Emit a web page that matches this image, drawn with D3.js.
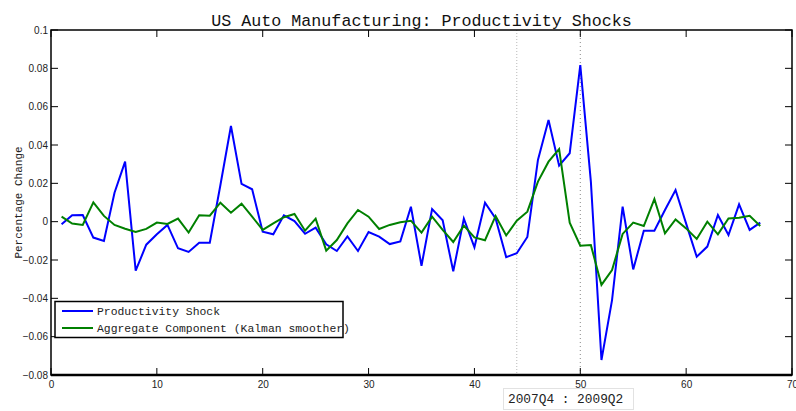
<!DOCTYPE html>
<html>
<head>
<meta charset="utf-8">
<script src="https://cdn.jsdelivr.net/npm/d3@7"></script>
<style>
  html, body { margin: 0; padding: 0; background: #fff; }
  svg { display: block; }
</style>
</head>
<body>
<svg id="chart" width="796" height="411"></svg>
<script>
// ---- data ----
const titleText = "US Auto Manufacturing: Productivity Shocks";
const yLabelText = "Percentage Change";
const seriesNames = ["Productivity Shock", "Aggregate Component (Kalman smoother)"];
const productivityShock = [
  -0.0014, 0.0033, 0.0035, -0.0083, -0.0101, 0.0151, 0.0313, -0.0256, -0.0120, -0.0066,
  -0.0017, -0.0139, -0.0158, -0.0110, -0.0110, 0.0190, 0.0499, 0.0197, 0.0169, -0.0052,
  -0.0066, 0.0033, 0.0003, -0.0063, -0.0031, -0.0118, -0.0153, -0.0077, -0.0153, -0.0054,
  -0.0078, -0.0117, -0.0103, 0.0078, -0.0230, 0.0066, 0.0007, -0.0259, 0.0016, -0.0134,
  0.0099, 0.0017, -0.0185, -0.0165, -0.0080, 0.0322, 0.0530, 0.0292, 0.0357, 0.0817,
  0.0209, -0.0722, -0.0409, 0.0078, -0.0249, -0.0047, -0.0047, 0.0061, 0.0165, -0.0010,
  -0.0183, -0.0130, 0.0035, -0.0070, 0.0090, -0.0043, -0.0005
];
const aggregateComponent = [
  0.0026, -0.0010, -0.0017, 0.0101, 0.0030, -0.0017, -0.0037, -0.0054, -0.0038, -0.0005,
  -0.0012, 0.0016, -0.0057, 0.0033, 0.0031, 0.0099, 0.0047, 0.0094, 0.0026, -0.0043,
  -0.0009, 0.0023, 0.0040, -0.0047, 0.0016, -0.0151, -0.0096, -0.0009, 0.0061, 0.0026,
  -0.0038, -0.0017, -0.0003, 0.0005, -0.0057, 0.0026, -0.0043, -0.0106, -0.0021, -0.0082,
  -0.0097, 0.0030, -0.0072, 0.0005, 0.0052, 0.0209, 0.0313, 0.0379, -0.0005, -0.0125,
  -0.0122, -0.0330, -0.0252, -0.0064, -0.0005, -0.0023, 0.0118, -0.0061, 0.0012, -0.0035,
  -0.0090, 0.0000, -0.0066, 0.0017, 0.0021, 0.0031, -0.0023
];
const xTicks = [0, 10, 20, 30, 40, 50, 60, 70];
const yTicks = [-0.08, -0.06, -0.04, -0.02, 0, 0.02, 0.04, 0.06, 0.08, 0.1];
const yTickLabels = ["\u22120.08", "\u22120.06", "\u22120.04", "\u22120.02", "0", "0.02", "0.04", "0.06", "0.08", "0.1"];
const recessionMarks = [44, 50];
const recessionLabel = "2007Q4 : 2009Q2";

// ---- layout ----
const L = 51, R = 792, T = 30, B = 375;
const mono = "'Liberation Mono', 'Courier New', monospace";
const sans = "'Liberation Sans', Arial, Helvetica, sans-serif";

const svg = d3.select("#chart");
const x = d3.scaleLinear().domain([0, 70]).range([L, R]);
const y = d3.scaleLinear().domain([-0.08, 0.1]).range([B, T]);

// recession markers
const markStyles = [{c: "#b8b8b8", d: "1,2"}, {c: "#888", d: "1,3"}];
recessionMarks.forEach((m, i) => {
  svg.append("line")
    .attr("x1", x(m)).attr("x2", x(m))
    .attr("y1", T).attr("y2", B)
    .attr("stroke", markStyles[i].c).attr("stroke-width", 1)
    .attr("stroke-dasharray", markStyles[i].d);
});

// lines
const line = d3.line().x((d, i) => x(i + 1)).y(d => y(d));
svg.append("path").datum(productivityShock)
  .attr("d", line).attr("fill", "none").attr("stroke", "#0000ff")
  .attr("stroke-width", 2).attr("stroke-linejoin", "miter");
svg.append("path").datum(aggregateComponent)
  .attr("d", line).attr("fill", "none").attr("stroke", "#008000")
  .attr("stroke-width", 2).attr("stroke-linejoin", "miter");

// axes (ticks inward)
const tickLen = 7;
const axBottom = d3.axisBottom(x).tickValues(xTicks).tickSize(0).tickPadding(6);
const gB = svg.append("g").attr("transform", `translate(0,${B})`).call(axBottom);
gB.select(".domain").remove();
gB.selectAll("text").attr("font-family", sans).attr("font-size", 10).attr("fill", "#222");

const axLeft = d3.axisLeft(y).tickValues(yTicks).tickSize(0).tickPadding(3)
  .tickFormat((d, i) => yTickLabels[i]);
const gL = svg.append("g").attr("transform", `translate(${L},0)`).call(axLeft);
gL.select(".domain").remove();
gL.selectAll("text").attr("font-family", sans).attr("font-size", 10).attr("fill", "#222");

// tick marks on all four sides
const ticksG = svg.append("g").attr("stroke", "#000").attr("stroke-width", 1);
xTicks.forEach(v => {
  ticksG.append("line").attr("x1", x(v)).attr("x2", x(v)).attr("y1", B).attr("y2", B - tickLen);
  ticksG.append("line").attr("x1", x(v)).attr("x2", x(v)).attr("y1", T).attr("y2", T + tickLen);
});
yTicks.forEach(v => {
  ticksG.append("line").attr("x1", L).attr("x2", L + tickLen).attr("y1", y(v)).attr("y2", y(v));
  ticksG.append("line").attr("x1", R).attr("x2", R - tickLen).attr("y1", y(v)).attr("y2", y(v));
});

// box
svg.append("rect").attr("x", L).attr("y", T).attr("width", R - L).attr("height", B - T)
  .attr("fill", "none").attr("stroke", "#000").attr("stroke-width", 1.5);
svg.append("line").attr("x1", L).attr("x2", R).attr("y1", B).attr("y2", B)
  .attr("stroke", "#000").attr("stroke-width", 2.5);

// title
svg.append("text").attr("x", (L + R) / 2).attr("y", 25.5).attr("text-anchor", "middle")
  .attr("font-family", mono).attr("font-size", 16.7).attr("fill", "#111").text(titleText);

// y label
svg.append("text").attr("transform", `translate(22,${(T + B) / 2}) rotate(-90)`)
  .attr("text-anchor", "middle").attr("font-family", mono).attr("font-size", 11)
  .attr("fill", "#222").text(yLabelText);

// legend
const lg = svg.append("g");
lg.append("rect").attr("x", 55).attr("y", 301.5).attr("width", 288).attr("height", 36)
  .attr("fill", "#fff").attr("stroke", "#000").attr("stroke-width", 1.5);
const legendColors = ["#0000ff", "#008000"];
seriesNames.forEach((n, i) => {
  const ly = 311 + i * 17;
  lg.append("line").attr("x1", 62).attr("x2", 93).attr("y1", ly).attr("y2", ly)
    .attr("stroke", legendColors[i]).attr("stroke-width", 2);
  lg.append("text").attr("x", 97).attr("y", ly + 4).attr("font-family", mono)
    .attr("font-size", 11.4).attr("fill", "#222").text(n);
});

// recession annotation box
svg.append("rect").attr("x", 503.5).attr("y", 388.5).attr("width", 130).attr("height", 21)
  .attr("fill", "#fff").attr("stroke", "#e2e2e2").attr("stroke-width", 1);
svg.append("text").attr("x", 508).attr("y", 403).attr("font-family", mono)
  .attr("font-size", 12.8).attr("fill", "#222").text(recessionLabel);
</script>
</body>
</html>
